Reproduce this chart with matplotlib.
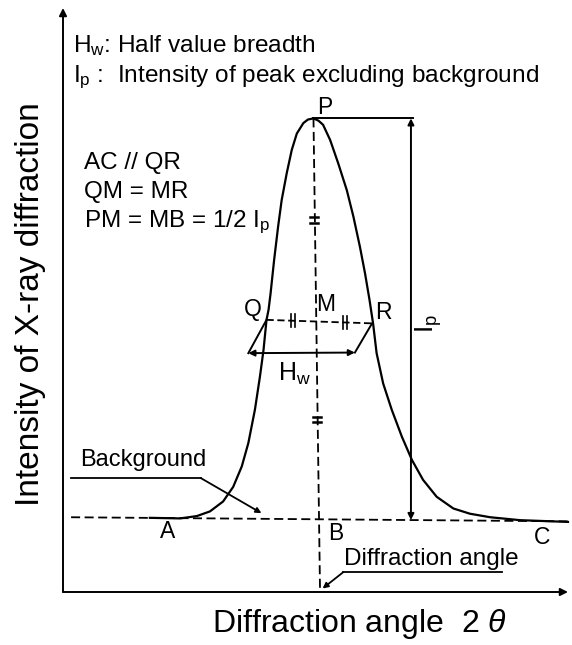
import numpy as np
import matplotlib
matplotlib.use("Agg")
import matplotlib.pyplot as plt

plt.rcParams['font.family'] = ['Liberation Sans', 'DejaVu Sans']
plt.rcParams['mathtext.fontset'] = 'custom'
plt.rcParams['mathtext.rm'] = 'Liberation Sans'
plt.rcParams['mathtext.it'] = 'Liberation Sans:italic'

# diffraction profile (angle, intensity in arbitrary units)
angle = [17.2, 23.2, 26.5, 29.1, 31.7, 33.7, 35.4, 36.7, 38.0, 39.0, 39.7, 40.3,
         40.7, 41.1, 41.8, 42.6, 43.3, 44.3, 45.3, 46.3, 47.6, 48.5, 49.6, 50.6,
         51.5, 52.9, 54.5, 56.2, 57.5, 58.8, 59.8, 60.7, 61.1, 61.4, 62.1, 63.4,
         65.1, 67.1, 69.1, 71.3, 74.0, 77.3, 80.6, 84.6, 90.5, 100.0]
intensity = [12.7, 12.6, 13.0, 13.8, 15.5, 18.0, 21.5, 25.5, 31.2, 36.9, 41.4, 46.6,
             48.3, 51.1, 56.8, 62.6, 67.1, 71.7, 75.7, 78.5, 80.3, 80.9, 81.1, 80.7,
             80.0, 77.4, 73.4, 68.8, 64.3, 59.1, 54.6, 50.0, 47.7, 46.0, 40.9, 35.7,
             31.2, 26.6, 22.6, 19.2, 16.3, 14.3, 13.4, 12.8, 12.3, 12.0]

# key points
peak = (49.6, 81.1)
bg_left = (1.6, 12.8)
bg_right = (100.0, 12.1)
q_pt = (40.3, 46.6)
r_pt = (61.2, 46.0)
hw_left = (36.7, 40.9)
hw_right = (57.8, 41.0)
ip_x = 68.9
b_foot = (50.9, 0.0)
half_marks = [63.7, 29.5]
qr_marks = [45.5, 55.8]

fig = plt.figure(figsize=(5.72, 6.45), dpi=100)
ax = fig.add_axes([63/572, 53/645, 505/572, 584/645])
ax.set_xlim(0, 100)
ax.set_ylim(0, 100)
ax.axis('off')

arrow_kw = dict(arrowstyle='-|>', mutation_scale=11, lw=1.4, color='k',
                shrinkA=0, shrinkB=0)
dbl_kw = dict(arrowstyle='<|-|>', mutation_scale=9, lw=1.4, color='k',
              shrinkA=0, shrinkB=0)
lead_kw = dict(arrowstyle='-|>', mutation_scale=8, lw=1.3, color='k',
               shrinkA=0, shrinkB=0)

# axes with arrows
ax.annotate('', xy=(0, 100), xytext=(0, 0), arrowprops=arrow_kw, annotation_clip=False)
ax.annotate('', xy=(100, 0), xytext=(0, 0), arrowprops=arrow_kw, annotation_clip=False)

# background line A-C
ax.plot([bg_left[0], bg_right[0]], [bg_left[1], bg_right[1]], color='k', lw=1.3,
        linestyle=(0, (5, 2.5)), clip_on=False)

# profile
ax.plot(angle, intensity, color='k', lw=1.6, clip_on=False, solid_joinstyle='round')

# P-B vertical dashed line
ax.plot([peak[0], b_foot[0]], [peak[1], b_foot[1]], color='k', lw=1.3,
        linestyle=(0, (5, 2.5)))

# equal length marks on PB
for yy in half_marks:
    xx = peak[0] + (peak[1] - yy) / peak[1] * (b_foot[0] - peak[0])
    for d in [-0.45, 0.45]:
        ax.plot([xx - 0.9, xx + 0.7], [yy + d, yy + d], color='k', lw=1.8)

# horizontal line at peak and Ip arrow
ax.plot([peak[0], ip_x + 0.4], [peak[1], peak[1]], color='k', lw=1.4)
ip_base = bg_left[1] + (bg_right[1] - bg_left[1]) * (ip_x - bg_left[0]) / (bg_right[0] - bg_left[0])
ax.annotate('', xy=(ip_x, peak[1]), xytext=(ip_x, ip_base), arrowprops=dbl_kw)
ax.text(72.5, 45.9, '$\\mathregular{I_p}$', rotation=90, ha='center', va='center',
        fontsize=19)

# Q-R dashed line with tick marks
ax.plot([q_pt[0], r_pt[0]], [q_pt[1], r_pt[1]], color='k', lw=1.3,
        linestyle=(0, (4, 2)))
for xx in qr_marks:
    yy = q_pt[1] + (r_pt[1] - q_pt[1]) * (xx - q_pt[0]) / (r_pt[0] - q_pt[0])
    for d in [-0.35, 0.35]:
        ax.plot([xx + d, xx + d], [yy - 1.1, yy + 1.1], color='k', lw=1.2)

# half width parallelogram
ax.plot([q_pt[0], hw_left[0]], [q_pt[1], hw_left[1]], color='k', lw=1.4)
ax.plot([hw_right[0], r_pt[0]], [hw_right[1], r_pt[1]], color='k', lw=1.4)
ax.annotate('', xy=hw_left, xytext=hw_right, arrowprops=dbl_kw)

# point labels
lbl = dict(fontsize=16.5, ha='center', va='center')
ax.text(51.9, 82.9, 'P', **lbl)
ax.text(37.6, 48.3, 'Q', **lbl)
ax.text(52.1, 49.3, 'M', **lbl)
ax.text(63.4, 47.8, 'R', **lbl)
ax.text(45.9, 37.3, 'H$_\\mathregular{w}$', fontsize=18, ha='center', va='center')
ax.text(20.8, 10.3, 'A', **lbl)
ax.text(54.1, 10.1, 'B', **lbl)
ax.text(94.9, 9.4, 'C', **lbl)

# Background leader
ax.text(3.4, 22.6, 'Background', fontsize=17, ha='left', va='center')
ax.plot([1.6, 27.3], [19.5, 19.5], color='k', lw=1.3)
ax.annotate('', xy=(39.3, 13.5), xytext=(27.3, 19.5), arrowprops=lead_kw)

# Diffraction angle leader
ax.text(55.6, 5.7, 'Diffraction angle', fontsize=17.5, ha='left', va='center')
ax.plot([86.9, 55.5], [3.4, 3.4], color='k', lw=1.3)
ax.annotate('', xy=(51.4, 0.6), xytext=(55.5, 3.4), arrowprops=lead_kw)

# legend texts
ax.text(2.0, 92.5, 'H$_\\mathregular{w}$: Half value breadth', fontsize=17.6,
        ha='left', va='baseline')
ax.text(2.0, 87.3, 'I$_\\mathregular{p}$ :  Intensity of peak excluding background',
        fontsize=17.6, ha='left', va='baseline')
ax.text(4.2, 73.5, 'AC // QR', fontsize=17.5, ha='left', va='center')
ax.text(4.2, 68.5, 'QM = MR', fontsize=17.5, ha='left', va='center')
ax.text(4.2, 62.4, 'PM = MB = 1/2 I$_\\mathregular{p}$', fontsize=17.5,
        ha='left', va='baseline')

# axis titles
ax.text(-6.5, 49.3, 'Intensity of X-ray diffraction', rotation=90, fontsize=24,
        ha='center', va='center')
ax.text(29.5, -6.85, 'Diffraction angle  2 $\\theta$', fontsize=23, ha='left',
        va='baseline')

fig.savefig('out.png', dpi=100, facecolor='white')
